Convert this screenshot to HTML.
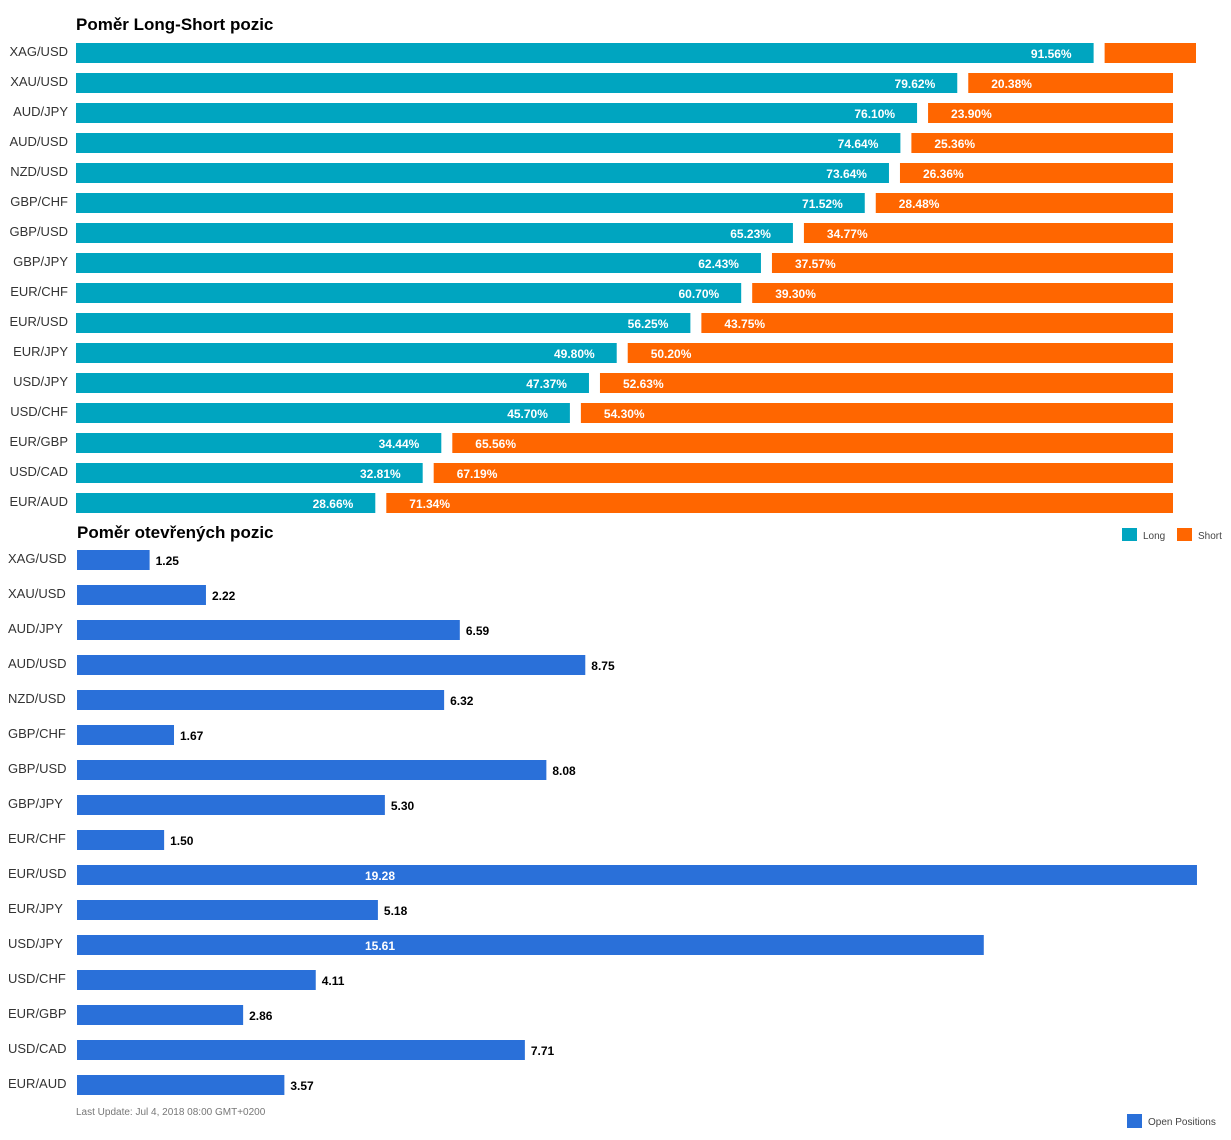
<!DOCTYPE html>
<html><head><meta charset="utf-8"><style>
body{margin:0;background:#fff;width:1231px;height:1135px;overflow:hidden;font-family:"Liberation Sans",Arial,sans-serif}
svg text{font-family:"Liberation Sans",Arial,sans-serif}
</style></head><body>
<svg id="c" width="1231" height="1135">
<text x="76" y="30" font-size="17" font-weight="bold" fill="#000">Poměr Long-Short pozic</text>
<text x="77" y="538" font-size="17" font-weight="bold" fill="#000">Poměr otevřených pozic</text>
<g>
<rect x="1122" y="528" width="15" height="13" fill="#00a5c0"/><text x="1143" y="539" font-size="10" fill="#444">Long</text>
<rect x="1177" y="528" width="15" height="13" fill="#ff6600"/><text x="1198" y="539" font-size="10" fill="#444">Short</text>
</g>
<g>
<rect x="1127" y="1114" width="15" height="14" fill="#2a70d9"/><text x="1148" y="1125" font-size="10" fill="#444">Open Positions</text>
</g>
<text x="76" y="1115" font-size="10" fill="#777">Last Update: Jul 4, 2018 08:00 GMT+0200</text>
<g id="gtop"></g><g id="gbot"></g>
</svg>
<script>
const categories=["XAG/USD","XAU/USD","AUD/JPY","AUD/USD","NZD/USD","GBP/CHF","GBP/USD","GBP/JPY","EUR/CHF","EUR/USD","EUR/JPY","USD/JPY","USD/CHF","EUR/GBP","USD/CAD","EUR/AUD"];
const longPct=[91.56,79.62,76.10,74.64,73.64,71.52,65.23,62.43,60.70,56.25,49.80,47.37,45.70,34.44,32.81,28.66];
const shortPct=[8.44,20.38,23.90,25.36,26.36,28.48,34.77,37.57,39.30,43.75,50.20,52.63,54.30,65.56,67.19,71.34];
const openPos=[1.25,2.22,6.59,8.75,6.32,1.67,8.08,5.30,1.50,19.28,5.18,15.61,4.11,2.86,7.71,3.57];
const NS="http://www.w3.org/2000/svg";
function mk(t,a,p){const e=document.createElementNS(NS,t);for(const k in a)e.setAttribute(k,a[k]);p.appendChild(e);return e;}
const pw=v=>11.42*v-28;
const gTop=document.getElementById('gtop'),gBot=document.getElementById('gbot');
categories.forEach((c,i)=>{
 const y=43+i*30;
 const l=mk('text',{x:68,y:y+13,'font-size':13,fill:'#333','text-anchor':'end'},gTop);l.textContent=c;
 
 
 const lw=pw(longPct[i]);
 const b=mk('rect',{x:76,y:y,width:lw,height:20,fill:'#00a5c0'},gTop);
 
 
 const sx=76+lw+11;
 const sw=i===0?1196-sx:Math.max(0,1173-sx);
 const s=mk('rect',{x:sx,y:y,width:sw,height:20,fill:'#ff6600'},gTop);
 
 
 const lt=mk('text',{x:76+lw-22,y:y+15,'font-size':12,'font-weight':'bold',fill:'#fff','text-anchor':'end'},gTop);lt.textContent=longPct[i].toFixed(2)+'%';
 
 
 if(i>0){const st=mk('text',{x:sx+23,y:y+15,'font-size':12,'font-weight':'bold',fill:'#fff'},gTop);st.textContent=shortPct[i].toFixed(2)+'%';
 
 }
 const y2=550+i*35;
 const l2=mk('text',{x:8,y:y2+13,'font-size':13,fill:'#333'},gBot);l2.textContent=c;
 
 
 const w=openPos[i]*58.09;
 const b2=mk('rect',{x:77,y:y2,width:w,height:20,fill:'#2a70d9'},gBot);
 
 
 const inside=w>700;
 const t=mk('text',{x:inside?365:77+w+6,y:y2+15,'font-size':12,'font-weight':'bold',fill:inside?'#fff':'#000'},gBot);t.textContent=openPos[i].toFixed(2);
 
 
});
</script>
</body></html>
